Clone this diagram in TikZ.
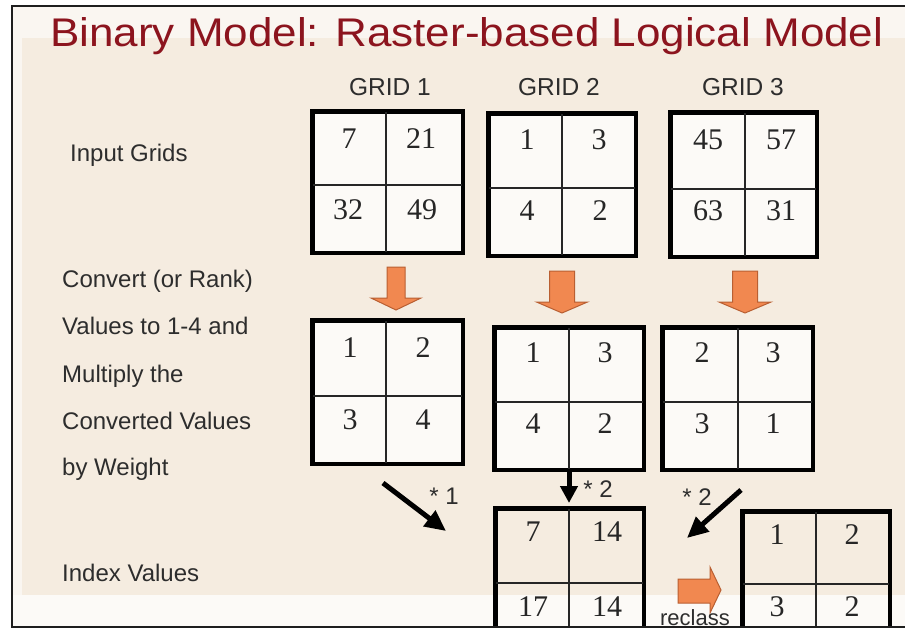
\documentclass[tikz,border=0pt]{standalone}
\usepackage{fontspec}
\usepackage{graphicx}
\setmainfont{Liberation Serif}
\newfontfamily\arialf{Liberation Sans}
\usetikzlibrary{arrows.meta}
\definecolor{beige}{RGB}{245,236,224}
\definecolor{paleband}{RGB}{250,246,241}
\definecolor{whiteband}{RGB}{252,250,247}
\definecolor{titlered}{RGB}{140,20,30}
\definecolor{txtgray}{RGB}{45,45,45}
\definecolor{orfill}{RGB}{241,136,80}
\definecolor{ordraw}{RGB}{185,95,50}
\definecolor{framec}{RGB}{30,30,30}
\tikzset{
  gridbox/.style={draw=black, line width=3pt, inner sep=0pt},
  gridwhite/.style={gridbox, fill=white, fill opacity=0.75, text opacity=1},
  thinline/.style={draw=black!85, line width=1.3pt},
  num/.style={font=\fontsize{30}{30}\selectfont, text=black!85, inner sep=0pt},
  lbl/.style={font=\arialf\fontsize{24}{24}\selectfont, text=txtgray, inner sep=0pt, anchor=base west},
  glbl/.style={font=\arialf\fontsize{24.5}{24.5}\selectfont, text=txtgray, inner sep=0pt},
  wlbl/.style={font=\arialf\fontsize{24}{24}\selectfont, text=txtgray, inner sep=0pt},
  blackarrow/.style={draw=black, line width=5pt, -{Triangle[length=21pt,width=19pt]}},
  orarrow/.style={fill=orfill, draw=ordraw, line width=1pt},
}
% name, x0, y0, x1, y1, xm, ym, style
\newcommand\mygrid[8]{%
  \node[#8, minimum width={#4-#2}, minimum height={#5-#3}] (#1) at ({(#2+#4)/2},{(#3+#5)/2}) {};
  \draw[thinline] (#6,#3) -- (#6,#5);
  \draw[thinline] (#2,#7) -- (#4,#7);
  \draw[line width=3pt] (#1.south west) rectangle (#1.north east);
}
% cx, top, shaft half width, head base, head half width, tip
\newcommand\downblock[6]{%
  \filldraw[orarrow] ({#1-#3},#2) -- ({#1+#3},#2) -- ({#1+#3},#4) -- ({#1+#5},#4) -- (#1,#6) -- ({#1-#5},#4) -- ({#1-#3},#4) -- cycle;
}
\begin{document}
\begin{tikzpicture}[x=1pt,y=-1pt]
\useasboundingbox (0,0) rectangle (905,629);
% background
\fill[white] (0,0) rectangle (905,629);
\fill[paleband] (12,6) rectangle (905,627);
\fill[beige] (22,38) rectangle (905,595);
\fill[whiteband] (12,595) rectangle (905,627);

% title
\node[anchor=base west, inner sep=0pt, text=titlered] (title) at (50,46)
  {\scalebox{1.1}[1]{\arialf\fontsize{40}{44}\selectfont Binary Model: Raster-based Logical Model}};

% column labels
\node[glbl] (gl1) at (390,87.5) {GRID 1};
\node[glbl] (gl2) at (559,87.5) {GRID 2};
\node[glbl] (gl3) at (743,87.5) {GRID 3};

% left labels
\node[lbl] (lin) at (70,161) {Input Grids};
\node[lbl] (lc1) at (62,287) {Convert (or Rank)};
\node[lbl] (lc2) at (62,334) {Values to 1-4 and};
\node[lbl] (lc3) at (62,382) {Multiply the};
\node[lbl] (lc4) at (62,429) {Converted Values};
\node[lbl] (lc5) at (62,475.5) {by Weight};
\node[lbl] (lidx) at (62,581) {Index Values};

% input grids
\mygrid{A1}{313}{112}{462}{252}{386}{185}{gridwhite}
\mygrid{A2}{489}{114}{635}{255}{562}{188}{gridwhite}
\mygrid{A3}{671}{113}{816}{256}{745}{189}{gridwhite}
\node[num] (a1a) at (349,139) {7};
\node[num] (a1b) at (421,139) {21};
\node[num] (a1c) at (348,210) {32};
\node[num] (a1d) at (422,210) {49};
\node[num] (a2a) at (527,140) {1};
\node[num] (a2b) at (599,140) {3};
\node[num] (a2c) at (527,211) {4};
\node[num] (a2d) at (600,211) {2};
\node[num] (a3a) at (708,140) {45};
\node[num] (a3b) at (781,140) {57};
\node[num] (a3c) at (708,211) {63};
\node[num] (a3d) at (781,211) {31};

% orange arrows
\downblock{396}{267}{9}{298}{25}{310}
\downblock{562}{271}{12.5}{302}{25.5}{313}
\downblock{745}{271}{12.5}{302}{26}{313}

% converted grids
\mygrid{B1}{313}{321}{462}{463}{386}{396}{gridwhite}
\mygrid{B2}{495}{328}{643}{469}{569}{402}{gridwhite}
\mygrid{B3}{663}{328}{812}{469}{738}{402}{gridwhite}
\node[num] (b1a) at (350,348) {1};
\node[num] (b1b) at (423,348) {2};
\node[num] (b1c) at (350,420) {3};
\node[num] (b1d) at (423,420) {4};
\node[num] (b2a) at (533,353) {1};
\node[num] (b2b) at (605,353) {3};
\node[num] (b2c) at (533,424) {4};
\node[num] (b2d) at (605,424) {2};
\node[num] (b3a) at (702,353) {2};
\node[num] (b3b) at (773,353) {3};
\node[num] (b3c) at (702,424) {3};
\node[num] (b3d) at (773,424) {1};

% black arrows and weights
\coordinate (k1s) at (383,483);
\coordinate (k1e) at (446,531);
\coordinate (k2s) at (569,469);
\coordinate (k2e) at (569,503);
\coordinate (k3s) at (741,490);
\coordinate (k3e) at (687,538);
\draw[blackarrow] (k1s) -- (k1e);
\draw[blackarrow, -{Triangle[length=17pt,width=17pt]}] (k2s) -- (k2e);
\draw[blackarrow] (k3s) -- (k3e);
\node[wlbl] (w1) at (444,496) {* 1};
\node[wlbl] (w2) at (598,489) {* 2};
\node[wlbl] (w3) at (697,497) {* 2};

\begin{scope}
\clip (0,0) rectangle (905,627);
\mygrid{C}{496}{509}{643}{655}{569}{583}{gridbox}
\mygrid{D}{743}{512}{889}{655}{816}{584}{gridbox}
\node[num] (ca) at (533,532) {7};
\node[num] (cb) at (607,532) {14};
\node[num] (cc) at (533,607) {17};
\node[num] (cd) at (607,607) {14};
\node[num] (da) at (777,535) {1};
\node[num] (db) at (852,535) {2};
\node[num] (dc) at (777,607) {3};
\node[num] (dd) at (852,607) {2};
\filldraw[orarrow] (678,579) -- (710,579) -- (710,567) -- (721,590) -- (710,613) -- (710,603) -- (678,603) -- cycle;
\end{scope}
\node[font=\arialf\fontsize{22}{22}\selectfont, text=txtgray, inner sep=0pt, anchor=base] (recl) at (695,625) {reclass};

% frame
\draw[framec, line width=2pt] (905,6) -- (12,6) -- (12,627) -- (905,627);
\end{tikzpicture}
\end{document}
